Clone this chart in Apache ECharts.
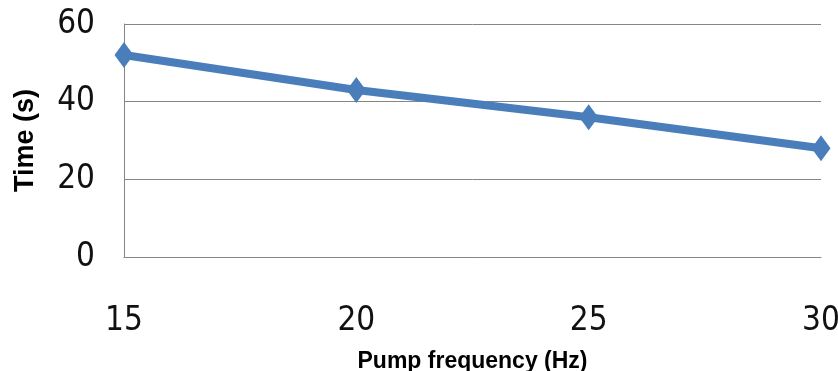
<!DOCTYPE html>
<html>
<head>
<meta charset="utf-8">
<script src="https://cdn.jsdelivr.net/npm/echarts@6/dist/echarts.min.js"></script>
<style>
html,body{margin:0;padding:0;background:#fff;}
#c{width:838px;height:371px;}
</style>
</head>
<body>
<div id="c"></div>
<script>
const categories = ['15', '20', '25', '30'];
const timeValues = [52, 43, 36, 28];
const yTicks = { min: 0, max: 60, interval: 20 };
const xTitle = 'Pump frequency (Hz)';
const yTitle = 'Time (s)';

const chart = echarts.init(document.getElementById('c'), null, { renderer: 'canvas' });
const numFont = "'DejaVu Sans Condensed', 'Liberation Sans Narrow', 'Liberation Sans', sans-serif";
chart.setOption({
  animation: false,
  backgroundColor: '#ffffff',
  grid: { left: 124, right: 17, top: 24, bottom: 114, containLabel: false, outerBoundsMode: 'none' },
  xAxis: {
    type: 'category',
    data: categories,
    boundaryGap: false,
    name: xTitle,
    nameLocation: 'middle',
    nameGap: 93,
    nameTextStyle: { fontFamily: "'Liberation Sans', Arial, sans-serif", fontWeight: 'bold', fontSize: 23, color: '#000' },
    axisLine: { show: true, lineStyle: { color: '#868686', width: 1 } },
    axisTick: { show: false },
    axisLabel: { fontFamily: numFont, fontSize: 33, color: '#111', margin: 48 },
    splitLine: { show: false }
  },
  yAxis: {
    type: 'value',
    min: yTicks.min,
    max: yTicks.max,
    interval: yTicks.interval,
    name: yTitle,
    nameLocation: 'middle',
    nameGap: 85,
    nameRotate: 90,
    nameTextStyle: { fontFamily: "'Liberation Sans', Arial, sans-serif", fontWeight: 'bold', fontSize: 27, color: '#000' },
    axisLine: { show: true, lineStyle: { color: '#868686', width: 1 } },
    axisTick: { show: false },
    axisLabel: { fontFamily: numFont, fontSize: 33, color: '#111', margin: 29 },
    splitLine: { show: true, lineStyle: { color: '#868686', width: 1 } }
  },
  series: [{
    type: 'line',
    data: timeValues,
    symbol: 'diamond',
    symbolSize: [19, 26],
    showAllSymbol: true,
    lineStyle: { color: '#4a7ebb', width: 8 },
    itemStyle: { color: '#4a7ebb' }
  }]
});
</script>
</body>
</html>
